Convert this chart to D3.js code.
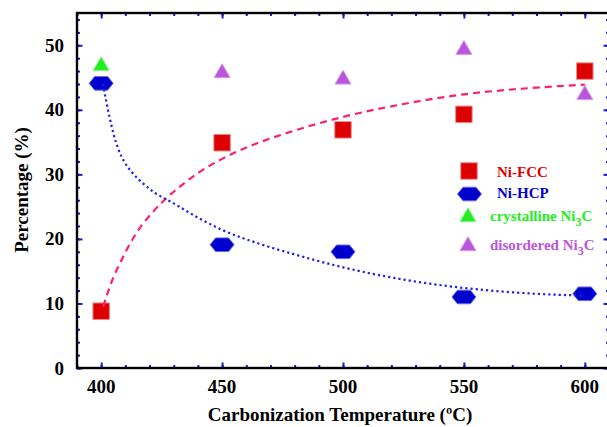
<!DOCTYPE html>
<html>
<head>
<meta charset="utf-8">
<script src="https://cdn.jsdelivr.net/npm/d3@7"></script>
<style>
  body { margin: 0; background: #fff; }
  text { font-family: "Liberation Serif", "Times New Roman", serif; font-weight: bold; }
</style>
</head>
<body>
<div id="chart"></div>
<script>
// measured points
var temps = [400, 450, 500, 550, 600];
var fcc = [8.8, 34.9, 36.9, 39.3, 46.0];
var hcp = [44.1, 19.1, 18.0, 11.0, 11.5];
var crysTemps = [400];
var crys = [46.8];
var disTemps = [450, 500, 550, 600];
var dis = [45.7, 44.7, 49.3, 42.3];

// fitted guide curves
var fccFit = [[400.8, 9.5], [403, 12], [405, 14], [408, 16.4], [412, 19.3], [416, 21.7],
    [420, 23.6], [425, 25.6], [430, 27.3], [440, 30.2], [450, 32.4], [461, 34.3], [475, 36.2],
    [490, 37.9], [500, 38.9], [525, 40.9], [550, 42.4], [575, 43.3], [600, 43.9]];
var hcpFit = [[400.8, 44], [402, 41.5], [403.5, 38.8], [405, 36.4], [407, 34], [409.5, 32],
    [413, 30.2], [417, 28.7], [422, 27.2], [430, 25.5], [440, 23.3], [450, 21.4], [465, 19.3],
    [480, 17.6], [500, 15.6], [525, 13.7], [550, 12.4], [575, 11.6], [600, 11.2]];

var xTicks = [400, 450, 500, 550, 600];
var yTicks = [0, 10, 20, 30, 40, 50];

var W = 607, H = 427;
var mLeft = 77, mRight = 609, mTop = 13, mBottom = 368;

var svg = d3.select("#chart").append("svg")
    .attr("width", W)
    .attr("height", H);

var x = d3.scaleLinear().domain([390, 610]).range([mLeft, mRight]);
var y = d3.scaleLinear().domain([0, 55]).range([mBottom, mTop]);

var tickBlue = "#1a1acc";

// minor + major ticks on all four sides, pointing inward
function ticks(axis, vals, size, tr) {
    var g = svg.append("g")
        .attr("transform", tr)
        .call(axis.tickValues(vals).tickSize(size).tickFormat(""));
    g.select(".domain").remove();
    g.selectAll(".tick line").attr("stroke", tickBlue).attr("stroke-width", 2);
    return g;
}
var xMinor = d3.range(390, 611, 10);
var yMinor = d3.range(0, 55, 2);
ticks(d3.axisBottom(x), xMinor, -3, "translate(0," + mBottom + ")");
ticks(d3.axisBottom(x), xTicks, -5.5, "translate(0," + mBottom + ")");
ticks(d3.axisTop(x), xMinor, -3, "translate(0," + mTop + ")");
ticks(d3.axisTop(x), xTicks, -5.5, "translate(0," + mTop + ")");
ticks(d3.axisLeft(y), yMinor, -3, "translate(" + mLeft + ",0)");
ticks(d3.axisLeft(y), yTicks, -5.5, "translate(" + mLeft + ",0)");
ticks(d3.axisRight(y), yMinor, -3, "translate(" + mRight + ",0)");
ticks(d3.axisRight(y), yTicks, -5.5, "translate(" + mRight + ",0)");

// frame
svg.append("rect")
    .attr("x", mLeft).attr("y", mTop)
    .attr("width", mRight - mLeft).attr("height", mBottom - mTop)
    .attr("fill", "none")
    .attr("stroke", "#000")
    .attr("stroke-width", 2.4);

// tick labels
svg.append("g").selectAll("text").data(xTicks).enter().append("text")
    .attr("x", function (d) { return x(d); })
    .attr("y", 393)
    .attr("text-anchor", "middle")
    .style("font-size", "19px")
    .text(function (d) { return d; });

svg.append("g").selectAll("text").data(yTicks).enter().append("text")
    .attr("x", 64)
    .attr("y", function (d) { return y(d) + 6.5; })
    .attr("text-anchor", "end")
    .style("font-size", "19px")
    .text(function (d) { return d; });

// axis titles
svg.append("text")
    .attr("x", 340)
    .attr("y", 421)
    .attr("text-anchor", "middle")
    .style("font-size", "19px")
    .text("Carbonization Temperature (ºC)");

svg.append("text")
    .attr("transform", "translate(28,190) rotate(-90)")
    .attr("text-anchor", "middle")
    .style("font-size", "19px")
    .text("Percentage (%)");

// marker shapes
var hexPath = "M-12,0L-6.5,-6.8L6.5,-6.8L12,0L6.5,6.8L-6.5,6.8Z";
var sq = d3.symbol().type(d3.symbolSquare).size(272)();
var tri = d3.symbol().type(d3.symbolTriangle).size(112)();

var red = "#dd0000", blue = "#0000cc", green = "#22ee22", purple = "#bb55dd";

function markers(xs, ys, path, fill, stroke) {
    svg.append("g").selectAll("path").data(xs).enter().append("path")
        .attr("transform", function (d, i) { return "translate(" + x(d) + "," + y(ys[i]) + ")"; })
        .attr("d", path)
        .attr("fill", fill)
        .attr("stroke", stroke)
        .attr("stroke-width", 1);
}
markers(temps, fcc, sq, red, "#f08888");
markers(temps, hcp, hexPath, blue, "#6666ee");
markers(crysTemps, crys, tri, green, "#88f588");
markers(disTemps, dis, tri, purple, "#d89ae8");

// fit curves
var line = d3.line()
    .x(function (d) { return x(d[0]); })
    .y(function (d) { return y(d[1]); })
    .curve(d3.curveMonotoneX);

svg.append("path")
    .attr("d", line(fccFit))
    .attr("fill", "none")
    .attr("stroke", "#ff1f70")
    .attr("stroke-width", 2.2)
    .attr("stroke-dasharray", "7,5");

svg.append("path")
    .attr("d", line(hcpFit))
    .attr("fill", "none")
    .attr("stroke", "#2020dd")
    .attr("stroke-width", 2.2)
    .attr("stroke-dasharray", "2.2,3");

// legend
var legend = [
    { name: "Ni-FCC", sub: null, path: sq, fill: red, stroke: "#f08888", mx: 469, my: 171, tx: 497, ty: 177 },
    { name: "Ni-HCP", sub: null, path: hexPath, fill: blue, stroke: "#6666ee", mx: 469.5, my: 194, tx: 497, ty: 198 },
    { name: "crystalline Ni", sub: "3", after: "C", path: tri, fill: green, stroke: "#88f588", mx: 468, my: 217, tx: 490, ty: 221 },
    { name: "disordered Ni", sub: "3", after: "C", path: tri, fill: purple, stroke: "#d89ae8", mx: 468, my: 246, tx: 490, ty: 250 }
];
var lg = svg.append("g").selectAll("g").data(legend).enter().append("g");
lg.append("path")
    .attr("transform", function (d) { return "translate(" + d.mx + "," + d.my + ")"; })
    .attr("d", function (d) { return d.path; })
    .attr("fill", function (d) { return d.fill; })
    .attr("stroke", function (d) { return d.stroke; });
var lt = lg.append("text")
    .attr("x", function (d) { return d.tx; })
    .attr("y", function (d) { return d.ty; })
    .attr("fill", function (d) { return d.fill; })
    .style("font-size", "15px");
lt.append("tspan").text(function (d) { return d.name; });
lt.filter(function (d) { return d.sub; }).append("tspan")
    .attr("dy", 5).style("font-size", "12px").text(function (d) { return d.sub; });
lt.filter(function (d) { return d.sub; }).append("tspan")
    .attr("dy", -5).text(function (d) { return d.after; });
</script>
</body>
</html>
